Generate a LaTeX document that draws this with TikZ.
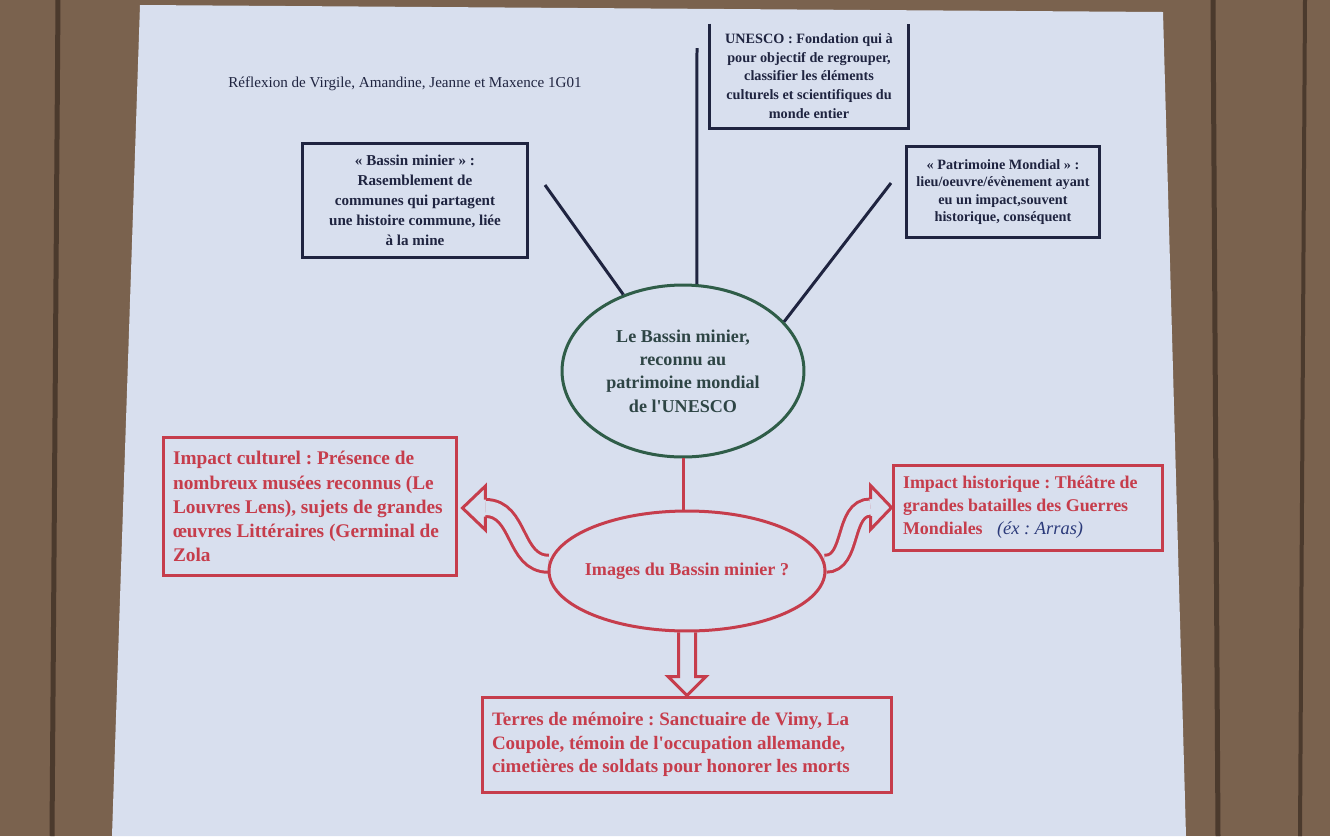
\documentclass[tikz,border=0pt]{standalone}
\usepackage{fontspec}
\setmainfont{Liberation Serif}
\usetikzlibrary{shapes.geometric,calc}
\frenchspacing

\definecolor{bois}{HTML}{7A624E}
\definecolor{joint}{HTML}{4B3A2D}
\definecolor{feuille}{HTML}{D8DFEE}
\definecolor{encre}{HTML}{1F2440}
\definecolor{vert}{HTML}{2F5D48}
\definecolor{gris}{HTML}{2E4545}
\definecolor{rouge}{HTML}{C63D4C}
\definecolor{stylo}{HTML}{2B3A7A}

\pgfdeclarelayer{papier}
\pgfdeclarelayer{fleches}
\pgfsetlayers{papier,fleches,main}

\begin{document}
\begin{tikzpicture}[x=0.02cm, y=-0.02cm,
        boite/.style={draw=encre, line width=0.06cm, text=encre, align=center, inner sep=0pt},
        boiterouge/.style={draw=rouge, line width=0.06cm, text=rouge, align=flush left, inner xsep=0.2cm, inner ysep=0pt},
        trait/.style={encre, line width=0.06cm},
        creux/.style={draw=rouge, line width=0.06cm, double=feuille, double distance=0.28cm},
        pointe/.style={draw=rouge, line width=0.06cm, fill=feuille, line join=miter}]

    \useasboundingbox (0,0) rectangle (1330,836);

    \begin{pgfonlayer}{papier}
        \fill[bois] (0,0) rectangle (1330,836);
        \draw[joint, line width=0.1cm] (58,0) -- (52,836);
        \draw[joint, line width=0.1cm] (1213,0) -- (1218,836);
        \draw[joint, line width=0.08cm] (1305,0) -- (1300,836);
        \fill[feuille] (140,5) -- (1163,12) -- (1186,836) -- (112,836) -- cycle;
    \end{pgfonlayer}

    \node[text=encre, font=\fontsize{8.6}{10}\selectfont] (titre) at (405,84)
        {Réflexion de Virgile, Amandine, Jeanne et Maxence 1G01};

    \node[boite, minimum width=4.52cm, minimum height=2.30cm,
          font=\bfseries\fontsize{8.6}{11.4}\selectfont] (bassin) at (415,200.5)
        {« Bassin minier » :\\Rasemblement de\\communes qui partagent\\une histoire commune, liée\\à la mine};

    \node[boite, draw=none, minimum width=3.92cm, minimum height=2.04cm,
          font=\bfseries\fontsize{8.1}{10.6}\selectfont] (unesco) at (809,76)
        {UNESCO : Fondation qui à\\pour objectif de regrouper,\\classifier les éléments\\culturels et scientifiques du\\monde entier};
    \draw[trait] (unesco.north west) -- (unesco.south west) -- (unesco.south east) -- (unesco.north east);

    \node[boite, minimum width=3.88cm, minimum height=1.84cm,
          font=\bfseries\fontsize{8.1}{9.8}\selectfont] (patrimoine) at (1003,192)
        {« Patrimoine Mondial » :\\lieu/oeuvre/évènement ayant\\eu un impact,souvent\\historique, conséquent};

    \node[ellipse, draw=vert, line width=0.06cm, text=gris, align=center, inner sep=0pt,
          minimum width=4.84cm, minimum height=3.44cm,
          font=\bfseries\fontsize{10.3}{13.3}\selectfont] (centre) at (683,371)
        {Le Bassin minier,\\reconnu au\\patrimoine mondial\\de l\textquotesingle UNESCO};

    \coordinate (bassin-fin) at (545,185);
    \coordinate (unesco-fin) at (697,48);
    \coordinate (patrimoine-fin) at (891,183);
    \draw[trait] (centre.128) -- (bassin-fin);
    \draw[trait] (centre.81) -- (unesco-fin);
    \draw[trait] (centre.26) -- (patrimoine-fin);

    \node[ellipse, draw=rouge, line width=0.06cm, inner sep=0pt,
          minimum width=5.52cm, minimum height=2.4cm,
          label={[text=rouge, font=\bfseries\fontsize{10.3}{12}\selectfont]center:Images du Bassin minier ?}] (images) at (687,571) {};
    \draw[rouge, line width=0.06cm] (centre.south) -- (centre.south |- images.north);

    \node[boiterouge, text width=5.48cm, minimum height=2.78cm,
          font=\bfseries\fontsize{11}{13.7}\selectfont] (culturel) at (310,506.5)
        {Impact culturel : Présence de\\nombreux musées reconnus (Le\\Louvres Lens), sujets de grandes\\œuvres Littéraires (Germinal de\\Zola};

    \node[boiterouge, text width=5.0cm, minimum height=1.7cm,
          font=\bfseries\fontsize{10.2}{13.1}\selectfont] (historique) at (1028,507.5)
        {Impact historique : Théâtre de\\grandes batailles des Guerres\\Mondiales\hspace{0.8em}{\normalfont\itshape\color{stylo}\fontsize{10.5}{10}\selectfont(éx : Arras)}};

    \node[boiterouge, text width=7.8cm, minimum height=1.9cm,
          font=\bfseries\fontsize{10.8}{13.4}\selectfont] (terres) at (687,744.5)
        {Terres de mémoire : Sanctuaire de Vimy, La\\Coupole, témoin de l\textquotesingle occupation allemande,\\cimetières de soldats pour honorer les morts};

    \coordinate (cul-pointe) at ($(culturel.east)+(4,1.5)$);
    \coordinate (cul-base) at ($(cul-pointe)+(23,0)$);
    \coordinate (his-pointe) at (historique.west);
    \coordinate (his-base) at ($(his-pointe)+(-21,0)$);

    \begin{pgfonlayer}{fleches}
        \draw[creux] (images.177) .. controls +(-35,0) and +(35,0) .. (cul-base);
        \draw[pointe] ($(cul-base)+(0,-8.5)$) -- ($(cul-base)+(0,-22)$) -- (cul-pointe)
            -- ($(cul-base)+(0,22)$) -- ($(cul-base)+(0,8.5)$);

        \draw[creux] (images.3) .. controls +(28,0) and +(-28,0) .. (his-base);
        \draw[pointe] ($(his-base)+(0,-8.5)$) -- ($(his-base)+(0,-22)$) -- (his-pointe)
            -- ($(his-base)+(0,22)$) -- ($(his-base)+(0,8.5)$);

        \draw[pointe] ($(images.south)+(-8.5,0)$) -- ($(terres.north)+(-8.5,-19)$) -- ($(terres.north)+(-19,-19)$)
            -- (terres.north) -- ($(terres.north)+(19,-19)$) -- ($(terres.north)+(8.5,-19)$) -- ($(images.south)+(8.5,0)$);
    \end{pgfonlayer}

\end{tikzpicture}
\end{document}
